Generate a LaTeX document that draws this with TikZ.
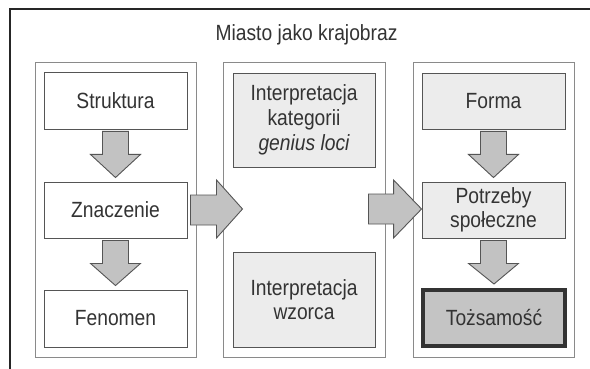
\documentclass[tikz,border=0pt]{standalone}
\usepackage{fontspec}
\setmainfont{Liberation Sans}[FakeStretch=0.875]
\usetikzlibrary{calc}
\definecolor{txt}{HTML}{333333}
\definecolor{panelc}{HTML}{8A8A8A}
\definecolor{boxc}{HTML}{555555}
\definecolor{lightf}{HTML}{ECECEC}
\definecolor{darkf}{HTML}{C4C4C4}
\definecolor{arrf}{HTML}{C2C2C2}
\begin{document}
\begin{tikzpicture}[x=1pt,y=-1pt,
  lbl/.style={text=txt,font=\fontsize{22}{24}\selectfont,align=center},
  panel/.style={draw=panelc,line width=1pt,fill=white},
  wbox/.style={lbl,draw=boxc,line width=0.9pt,fill=white,minimum width=143pt,inner sep=0pt},
  gbox/.style={wbox,fill=lightf},
  tbox/.style={wbox,fill=darkf,draw=txt,line width=4pt,minimum width=142pt},
  blockarrow/.style={draw=boxc,line width=0.9pt,fill=arrf,line join=miter}]
\useasboundingbox (0,0) rectangle (590,369);
\fill[white] (0,0) rectangle (590,369);
% outer frame (cropped)
\draw[line width=2.2pt,draw=black!85] (10,372) -- (10,9) -- (593,9);
\node[lbl] (title) at (306.5,35) {Miasto jako krajobraz};
% panels
\node[panel,minimum width=161pt,minimum height=294pt,inner sep=0pt] (pl) at (115.5,210) {};
\node[panel,minimum width=162pt,minimum height=294pt,inner sep=0pt] (pm) at (304,210) {};
\node[panel,minimum width=161pt,minimum height=294pt,inner sep=0pt] (pr) at (493.5,210) {};
% left boxes
\node[wbox,minimum height=57pt] (s) at (115.5,100.5) {Struktura};
\node[wbox,minimum height=56pt] (z) at (115.5,210) {Znaczenie};
\node[wbox,minimum height=57pt] (f) at (115.5,318.5) {Fenomen};
% middle boxes
\node[gbox,minimum width=142pt,minimum height=94pt] (ik) at (304,120) {Interpretacja\\[1pt]kategorii\\[1pt]\itshape genius loci};
\node[gbox,minimum width=142pt,minimum height=95pt] (iw) at (304,299.5) {Interpretacja\\wzorca};
% right boxes
\node[gbox,minimum height=56pt] (fo) at (493.5,101) {Forma};
\node[gbox,minimum height=56pt] (po) at (493.5,210) {Potrzeby\\społeczne};
\node[tbox,minimum height=56pt] (to) at (494,318) {Tożsamość};
% down arrows
\foreach \a/\b in {s/z,z/f,fo/po,po/to}{
  \path (\a.south) coordinate (A) (\b.north) coordinate (B);
  \draw[blockarrow] ($(A)+(-13,2)$) -- ($(A)+(13,2)$) -- ($(A)+(13,25)$) -- ($(A)+(25,25)$)
     -- ($(B)+(0,-4)$) -- ($(A)+(-25,25)$) -- ($(A)+(-13,25)$) -- cycle;
}
% right arrows
\path (z.east) coordinate (Z) (pm.west) coordinate (M);
\draw[blockarrow] ($(Z)+(3,-15)$) -- ($(M)+(-6,-15)$) -- ($(M)+(-6,-30)$) -- ($(M)+(20,-1)$)
   -- ($(M)+(-6,28)$) -- ($(M)+(-6,15)$) -- ($(Z)+(3,15)$) -- cycle;
\path (pm.east) coordinate (Z2) (po.west) coordinate (M2);
\draw[blockarrow] ($(Z2)+(-17,-16)$) -- ($(M2)+(-28,-16)$) -- ($(M2)+(-28,-30)$) -- ($(M2)+(0,-1)$)
   -- ($(M2)+(-28,28)$) -- ($(M2)+(-28,14)$) -- ($(Z2)+(-17,14)$) -- cycle;
\end{tikzpicture}
\end{document}
